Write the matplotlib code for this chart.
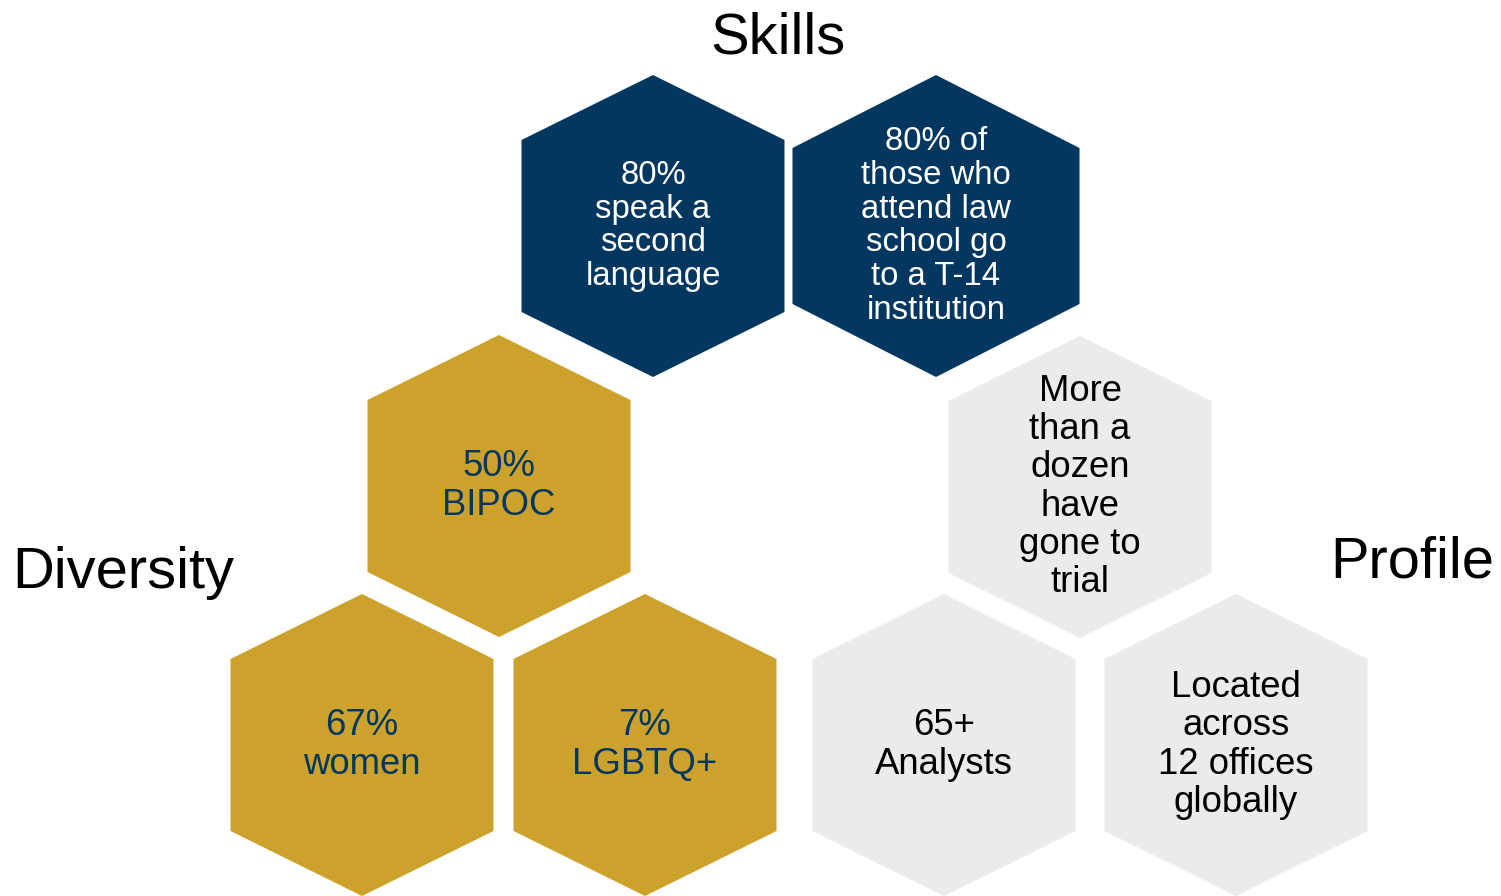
import matplotlib.pyplot as plt
from matplotlib.patches import Polygon

plt.rcParams['font.family'] = ['Liberation Sans', 'DejaVu Sans']

navy = '#03375f'
gold = '#cda22c'
grey = '#ebebeb'

# hexagon centres (pixels, y down), width, height, slant rise
hex_x = [653, 936, 499, 362, 645, 1080, 944, 1236]
hex_y = [226, 226, 486, 745, 745, 487, 745, 745]
hex_w = [263, 287, 263, 263, 263, 263, 263, 263]
hex_h = [302, 302, 302, 302, 302, 302, 302, 302]
hex_rise = [65, 73, 65, 65, 65, 65, 65, 65]
hex_fill = [navy, navy, gold, gold, gold, grey, grey, grey]
hex_ink = ['white', 'white', navy, navy, navy, 'black', 'black', 'black']
hex_size = [23.7, 23.7, 26.3, 26.3, 26.3, 26.3, 26.3, 26.3]
hex_text = [
    "80%\nspeak a\nsecond\nlanguage",
    "80% of\nthose who\nattend law\nschool go\nto a T-14\ninstitution",
    "50%\nBIPOC",
    "67%\nwomen",
    "7%\nLGBTQ+",
    "More\nthan a\ndozen\nhave\ngone to\ntrial",
    "65+\nAnalysts",
    "Located\nacross\n12 offices\nglobally",
]

titles = ["Skills", "Diversity", "Profile"]
title_x = [778, 12, 1494]
title_y = [38, 573, 562]
title_ha = ['center', 'left', 'right']

fig = plt.figure(figsize=(15.01, 8.96), dpi=100)
ax = fig.add_axes([0, 0, 1, 1])
ax.set_xlim(0, 1501)
ax.set_ylim(896, 0)
ax.axis('off')

for i in range(len(hex_x)):
    cx, cy = hex_x[i], hex_y[i]
    w, h, r = hex_w[i] / 2, hex_h[i] / 2, hex_rise[i]
    pts = [(cx, cy - h), (cx + w, cy - h + r), (cx + w, cy + h - r),
           (cx, cy + h), (cx - w, cy + h - r), (cx - w, cy - h + r)]
    ax.add_patch(Polygon(pts, closed=True, facecolor=hex_fill[i], edgecolor='none'))
    ax.text(cx, cy, hex_text[i], ha='center', va='center', multialignment='center',
            color=hex_ink[i], fontsize=hex_size[i], linespacing=1.12)

for t, x, y, ha in zip(titles, title_x, title_y, title_ha):
    ax.text(x, y, t, ha=ha, va='center', fontsize=41.7, color='black')

fig.savefig('out.png', dpi=100)
